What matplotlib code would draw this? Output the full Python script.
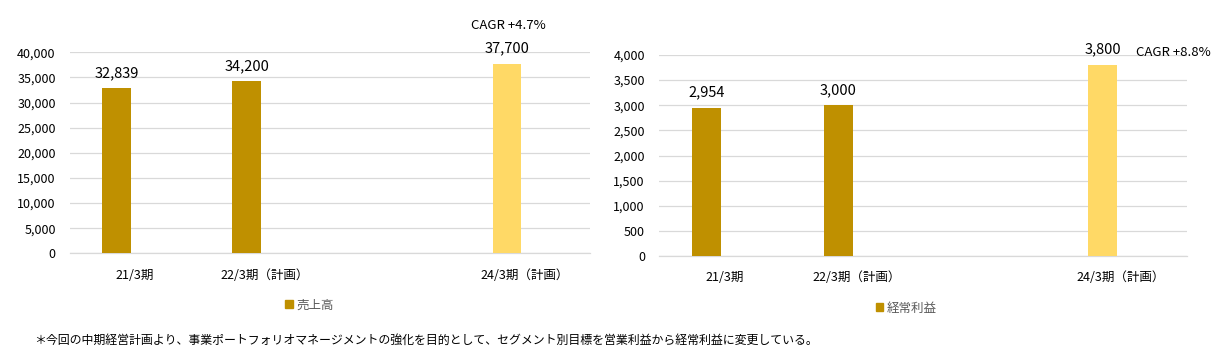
import matplotlib
matplotlib.use("Agg")
import matplotlib.pyplot as plt
from matplotlib.patches import Patch

plt.rcParams['font.family'] = ['Noto Sans CJK JP', 'DejaVu Sans']

categories = ['21/3期', '22/3期（計画）', '', '24/3期（計画）']
sales = [32839, 34200, None, 37700]
profit = [2954, 3000, None, 3800]
is_plan_final = [False, False, False, True]
sales_ticks = list(range(0, 40001, 5000))
profit_ticks = list(range(0, 4001, 500))
sales_label = '売上高'
profit_label = '経常利益'
sales_cagr = 'CAGR +4.7%'
profit_cagr = 'CAGR +8.8%'
footnote = '＊今回の中期経営計画より、事業ポートフォリオマネージメントの強化を目的として、セグメント別目標を営業利益から経常利益に変更している。'

DARK = '#BF9000'
LIGHT = '#FFD966'
GRID = '#D9D9D9'
TXT = '#000000'

W, H = 1223, 354
fig = plt.figure(figsize=(W / 100, H / 100), dpi=100)


def draw(rect, values, ticks, legend_label, legend_xy):
    ax = fig.add_axes(rect)
    xs = []
    hs = []
    cs = []
    for i, v in enumerate(values):
        if v is None:
            continue
        xs.append(i - 0.14)
        hs.append(v)
        cs.append(LIGHT if is_plan_final[i] else DARK)
    ax.bar(xs, hs, width=0.22, color=cs, zorder=3)
    for x, v in zip(xs, hs):
        ax.annotate(f'{v:,}', (x, v), xytext=(0, 11), textcoords='offset points',
                    ha='center', va='center', fontsize=10.5, color=TXT)
    ax.set_xlim(-0.5, 3.5)
    ax.set_ylim(0, ticks[-1])
    ax.set_yticks(ticks)
    ax.set_yticklabels([f'{t:,}' for t in ticks], fontsize=9, color=TXT)
    ax.set_xticks(range(len(categories)))
    ax.set_xticklabels(categories, fontsize=9, color=TXT)
    ax.tick_params(axis='both', length=0)
    ax.tick_params(axis='x', pad=11)
    ax.tick_params(axis='y', pad=10)
    ax.grid(axis='y', color=GRID, linewidth=0.9, zorder=0)
    for s in ['top', 'right', 'left']:
        ax.spines[s].set_visible(False)
    ax.spines['bottom'].set_color(GRID)
    ax.spines['bottom'].set_linewidth(0.9)
    fig.legend(handles=[Patch(color=DARK, label=legend_label)],
               loc='center', bbox_to_anchor=legend_xy, frameon=False,
               fontsize=9, handlelength=0.6, handleheight=0.6,
               handletextpad=0.3, labelcolor='#595959')
    return ax


axL = draw([69.6 / W, 1 - 253.3 / H, 520.5 / W, 201 / H], sales, sales_ticks,
           sales_label, (309.5 / W, 1 - 305 / H))
axR = draw([658.8 / W, 1 - 256 / H, 528.4 / W, 201 / H], profit, profit_ticks,
           profit_label, (906.5 / W, 1 - 308 / H))

fig.text(508 / W, 1 - 25.7 / H, sales_cagr, ha='center', va='center',
         fontsize=9.5, color=TXT)
fig.text(1135.6 / W, 1 - 52.3 / H, profit_cagr, ha='left', va='center',
         fontsize=9.5, color=TXT)
fig.text(34 / W, 1 - 340 / H, footnote, ha='left', va='center',
         fontsize=8.6, color=TXT)

fig.savefig('out.png', dpi=100)
